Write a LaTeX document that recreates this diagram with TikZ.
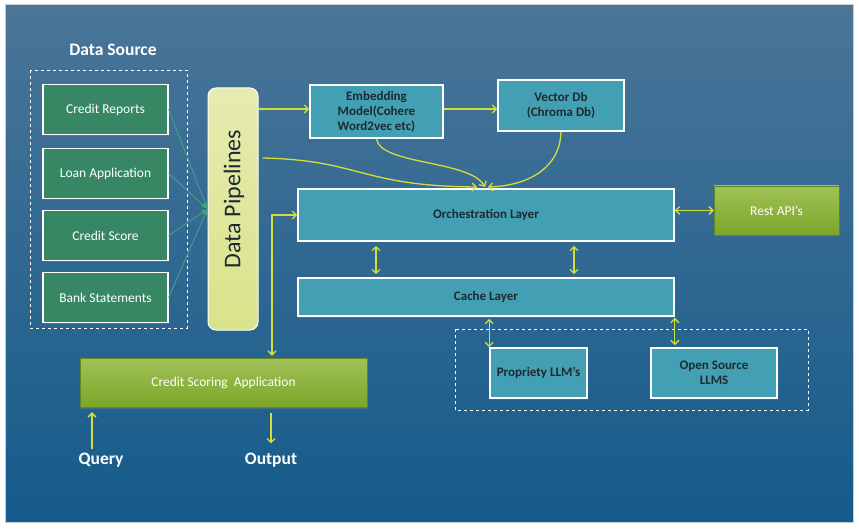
\documentclass[tikz,border=0pt]{standalone}
\usepackage{fontspec}
\setmainfont{Carlito}
\usetikzlibrary{arrows.meta,shadows}

\definecolor{bgtop}{HTML}{4A7598}
\definecolor{bgbot}{HTML}{155B8B}
\definecolor{srcgreen}{HTML}{388764}
\definecolor{tealbox}{HTML}{439FB3}
\definecolor{limetop}{HTML}{A0C157}
\definecolor{limebot}{HTML}{7CA729}
\definecolor{pipetop}{HTML}{E6ECB0}
\definecolor{pipebot}{HTML}{D8E38A}
\definecolor{arrowyel}{HTML}{D2DF3A}
\definecolor{flowgreen}{HTML}{3FA382}
\definecolor{darktext}{HTML}{1F2A30}

\begin{document}
\begin{tikzpicture}[x=1pt, y=-1pt,
    source/.style={draw=white, line width=1.3pt, fill=srcgreen, text=white,
      minimum width=125pt, minimum height=50pt, font=\fontsize{13.5}{15}\selectfont,
      drop shadow={opacity=0.35, shadow xshift=1pt, shadow yshift=-1.5pt}},
    layer/.style={draw=white, line width=1.6pt, fill=tealbox, text=darktext, align=center,
      font=\bfseries\fontsize{13}{15}\selectfont,
      drop shadow={opacity=0.35, shadow xshift=1pt, shadow yshift=-1.5pt}},
    lime/.style={top color=limetop, bottom color=limebot, draw=limebot!80!black, line width=0.4pt,
      text=white, font=\fontsize{13.5}{15}\selectfont,
      drop shadow={opacity=0.35, shadow xshift=1pt, shadow yshift=-1.5pt}},
    title/.style={text=white, font=\bfseries\fontsize{17.5}{20}\selectfont},
    flow/.style={draw=arrowyel, line width=1.3pt, -{Straight Barb[length=4pt,width=8pt]}},
    flowboth/.style={draw=arrowyel, line width=1.3pt, {Straight Barb[length=4pt,width=8pt]}-{Straight Barb[length=4pt,width=8pt]}},
    feed/.style={draw=flowgreen, line width=0.9pt, -{Latex[length=6pt,width=5pt]}},
    group/.style={draw=white, dashed, line width=0.9pt}]

    % Background panel
    \useasboundingbox (0,0) rectangle (859,529);
    \fill[white] (0,0) rectangle (859,529);
    \shade[top color=bgtop, bottom color=bgbot, draw=black!20, line width=1pt] (5,5) rectangle (853,522);

    % Node definitions
    \node (dstitle) at (113,50) [title] {Data Source};
    \draw[group] (30,70) rectangle (187,328);
    \node (src1) at (105.5,109.5) [source] {Credit Reports};
    \node (src2) at (105.5,173.5) [source] {Loan Application};
    \node (src3) at (105.5,235.5) [source] {Credit Score};
    \node (src4) at (105.5,297.5) [source] {Bank Statements};

    \node (pipe) at (233,209) [rounded corners=8pt, top color=pipetop, bottom color=pipebot,
      draw=white, line width=1pt, minimum width=50pt, minimum height=242pt] {};
    \node (pipetext) at (234,199) [rotate=90, text=darktext, font=\fontsize{24}{28}\selectfont] {Data Pipelines};

    \node (embed) at (376.5,111.5) [layer, minimum width=133pt, minimum height=53pt]
      {Embedding\\Model(Cohere\\Word2vec etc)};
    \node (vdb) at (561,105.5) [layer, minimum width=126pt, minimum height=51pt]
      {Vector Db\\(Chroma Db)};
    \node (orch) at (486,215) [layer, minimum width=376pt, minimum height=52pt] {Orchestration Layer};
    \node (rest) at (776.5,210.5) [lime, minimum width=125pt, minimum height=49pt] {Rest API's};
    \node (cache) at (486,297) [layer, minimum width=376pt, minimum height=38pt] {Cache Layer};

    \draw[group] (455,329) rectangle (808,410);
    \node (prop) at (538.5,373) [layer, minimum width=97pt, minimum height=50pt] {Propriety LLM's};
    \node (open) at (714,373) [layer, minimum width=126pt, minimum height=50pt] {Open Source\\LLMS};

    \node (app) at (223.5,382.5) [lime, minimum width=287pt, minimum height=49pt] {Credit Scoring\ \ Application};
    \node (query) at (101,460) [title] {Query};
    \node (output) at (271,460) [title] {Output};
    \coordinate (merge) at (486,187);

    % Edge definitions
    \foreach \s in {src1,src2,src3,src4}
      \draw[feed] (\s.east) -- (pipe.west);
    \draw[flow] (pipe.east |- 0,109) -- (embed.west |- 0,109);
    \draw[flow] (embed.east |- 0,109) -- (vdb.west |- 0,109);
    \draw[flow] (embed.south) .. controls (380,165) and (470,160) .. ([xshift=-1pt]merge);
    \draw[flow] (vdb.south) .. controls (560,170) and (525,186) .. ([xshift=2pt]merge);
    \draw[flow] ([xshift=4pt]pipe.east |- 0,158) .. controls (360,160) and (360,186) .. ([xshift=-9pt]merge);
    \draw[flowboth] (orch.east |- rest.west) -- (rest.west);
    \draw[flowboth, shorten <=4pt, shorten >=3pt] ([xshift=-110pt]orch.south) -- ([xshift=-110pt]cache.north);
    \draw[flowboth, shorten <=4pt, shorten >=3pt] ([xshift=88pt]orch.south) -- ([xshift=88pt]cache.north);
    \draw[flowboth, shorten <=2pt] (prop.north west |- cache.south) -- (prop.north west);
    \draw[flowboth, shorten <=1pt, shorten >=2pt] (cache.south east) -- (cache.south east |- open.north);
    \draw[flowboth, shorten <=2pt] ([xshift=48.5pt]app.north) |- (orch.west);
    \draw[flow, shorten >=5pt] ([xshift=-9pt]query.north) -- ([xshift=-9pt]query.north |- app.south);
    \draw[flow, shorten <=6pt, shorten >=6pt] (app.south -| output.north) -- (output.north);
\end{tikzpicture}
\end{document}
